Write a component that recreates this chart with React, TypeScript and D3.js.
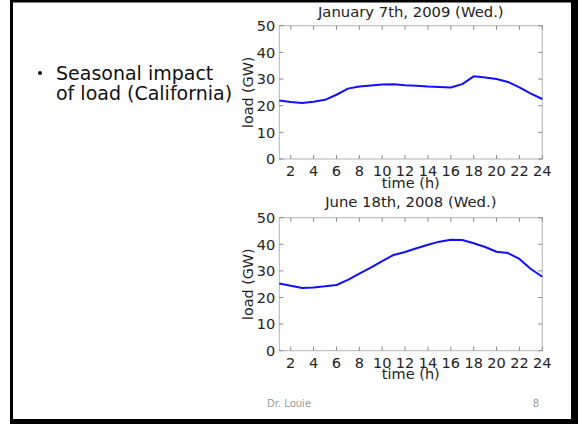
import React, { useEffect, useRef } from 'react';
import * as d3 from 'd3';

const hours = d3.range(1, 25);
const januaryLoad = [
  21.9, 21.4, 21.0, 21.5, 22.2, 24.1, 26.4, 27.2, 27.6, 27.9, 28.0, 27.7,
  27.5, 27.2, 27.0, 26.8, 28.1, 31.0, 30.6, 30.0, 28.9, 26.9, 24.5, 22.5,
];
const juneLoad = [
  25.3, 24.4, 23.6, 23.8, 24.2, 24.7, 26.6, 29.0, 31.2, 33.7, 36.0, 37.1,
  38.5, 39.8, 41.0, 41.7, 41.6, 40.4, 39.0, 37.2, 36.7, 34.5, 30.7, 27.8,
];
const xTicks = [2, 4, 6, 8, 10, 12, 14, 16, 18, 20, 22, 24];
const yTicks = [0, 10, 20, 30, 40, 50];
const titles = ['January 7th, 2009 (Wed.)', 'June 18th, 2008 (Wed.)'];

const FONT = 'DejaVu Sans, Verdana, sans-serif';

const App: React.FC = () => {
  const ref = useRef<SVGSVGElement>(null);

  useEffect(() => {
    const svg = d3.select(ref.current);
    svg.selectAll('*').remove();

    // slide frame
    svg.append('rect').attr('x', 10).attr('y', 0).attr('width', 568).attr('height', 424).attr('fill', '#000');
    svg.append('rect').attr('x', 13).attr('y', 2.5).attr('width', 558).attr('height', 416.5).attr('fill', '#fff');

    // bullet text
    svg.append('circle').attr('cx', 40).attr('cy', 73).attr('r', 2).attr('fill', '#111');
    svg.append('text').attr('x', 56).attr('y', 79.5).attr('font-family', FONT).attr('font-size', 19).attr('fill', '#111').text('Seasonal impact');
    svg.append('text').attr('x', 56).attr('y', 100).attr('font-family', FONT).attr('font-size', 19).attr('fill', '#111').text('of load (California)');

    // footer
    svg.append('text').attr('x', 267).attr('y', 407).attr('font-family', FONT).attr('font-size', 10).attr('fill', '#999').text('Dr. Louie');
    svg.append('text').attr('x', 539).attr('y', 407).attr('text-anchor', 'end').attr('font-family', FONT).attr('font-size', 10).attr('fill', '#999').text('8');

    const panels = [
      { data: januaryLoad, top: 25.7, bottom: 159, titleGap: 8.7 },
      { data: juneLoad, top: 217.7, bottom: 350.7, titleGap: 10.5 },
    ];
    const left = 279.3;
    const right = 542.3;

    panels.forEach((p, i) => {
      const x = d3.scaleLinear().domain([1, 24]).range([left, right]);
      const y = d3.scaleLinear().domain([0, 50]).range([p.bottom, p.top]);
      const g = svg.append('g');
      const tickLen = 4;

      // box
      g.append('rect')
        .attr('x', left).attr('y', p.top)
        .attr('width', right - left).attr('height', p.bottom - p.top)
        .attr('fill', 'none').attr('stroke', '#b4b4b4').attr('stroke-width', 1);

      // inward ticks
      xTicks.forEach((t) => {
        g.append('line').attr('x1', x(t)).attr('x2', x(t)).attr('y1', p.bottom).attr('y2', p.bottom - tickLen).attr('stroke', '#888');
        g.append('line').attr('x1', x(t)).attr('x2', x(t)).attr('y1', p.top).attr('y2', p.top + tickLen).attr('stroke', '#888');
        g.append('text')
          .attr('x', x(t)).attr('y', p.bottom + 17)
          .attr('text-anchor', 'middle')
          .attr('font-family', FONT).attr('font-size', 14.5).attr('fill', '#222')
          .text(t);
      });
      yTicks.forEach((t) => {
        g.append('line').attr('x1', left).attr('x2', left + tickLen).attr('y1', y(t)).attr('y2', y(t)).attr('stroke', '#888');
        g.append('line').attr('x1', right).attr('x2', right - tickLen).attr('y1', y(t)).attr('y2', y(t)).attr('stroke', '#888');
        g.append('text')
          .attr('x', left - 4).attr('y', y(t) + 5.3)
          .attr('text-anchor', 'end')
          .attr('font-family', FONT).attr('font-size', 14.5).attr('fill', '#222')
          .text(t);
      });

      // labels
      g.append('text')
        .attr('x', (left + right) / 2).attr('y', p.bottom + 28.5)
        .attr('text-anchor', 'middle')
        .attr('font-family', FONT).attr('font-size', 14.5).attr('fill', '#222')
        .text('time (h)');
      g.append('text')
        .attr('transform', `translate(${left - 26},${(p.top + p.bottom) / 2}) rotate(-90)`)
        .attr('text-anchor', 'middle')
        .attr('font-family', FONT).attr('font-size', 14.3).attr('fill', '#222')
        .text('load (GW)');
      g.append('text')
        .attr('x', (left + right) / 2).attr('y', p.top - p.titleGap)
        .attr('text-anchor', 'middle')
        .attr('font-family', FONT).attr('font-size', 14.8).attr('fill', '#222')
        .text(titles[i]);

      const line = d3.line<number>().x((_, j) => x(hours[j])).y((d) => y(d));
      g.append('path')
        .datum(p.data)
        .attr('d', line)
        .attr('fill', 'none')
        .attr('stroke', '#1010ff')
        .attr('stroke-width', 2)
        .attr('stroke-linejoin', 'round');
    });
  }, []);

  return (
    <svg
      ref={ref}
      width={578}
      height={424}
      style={{ position: 'absolute', left: 0, top: 0 }}
    ></svg>
  );
};

export default App;
